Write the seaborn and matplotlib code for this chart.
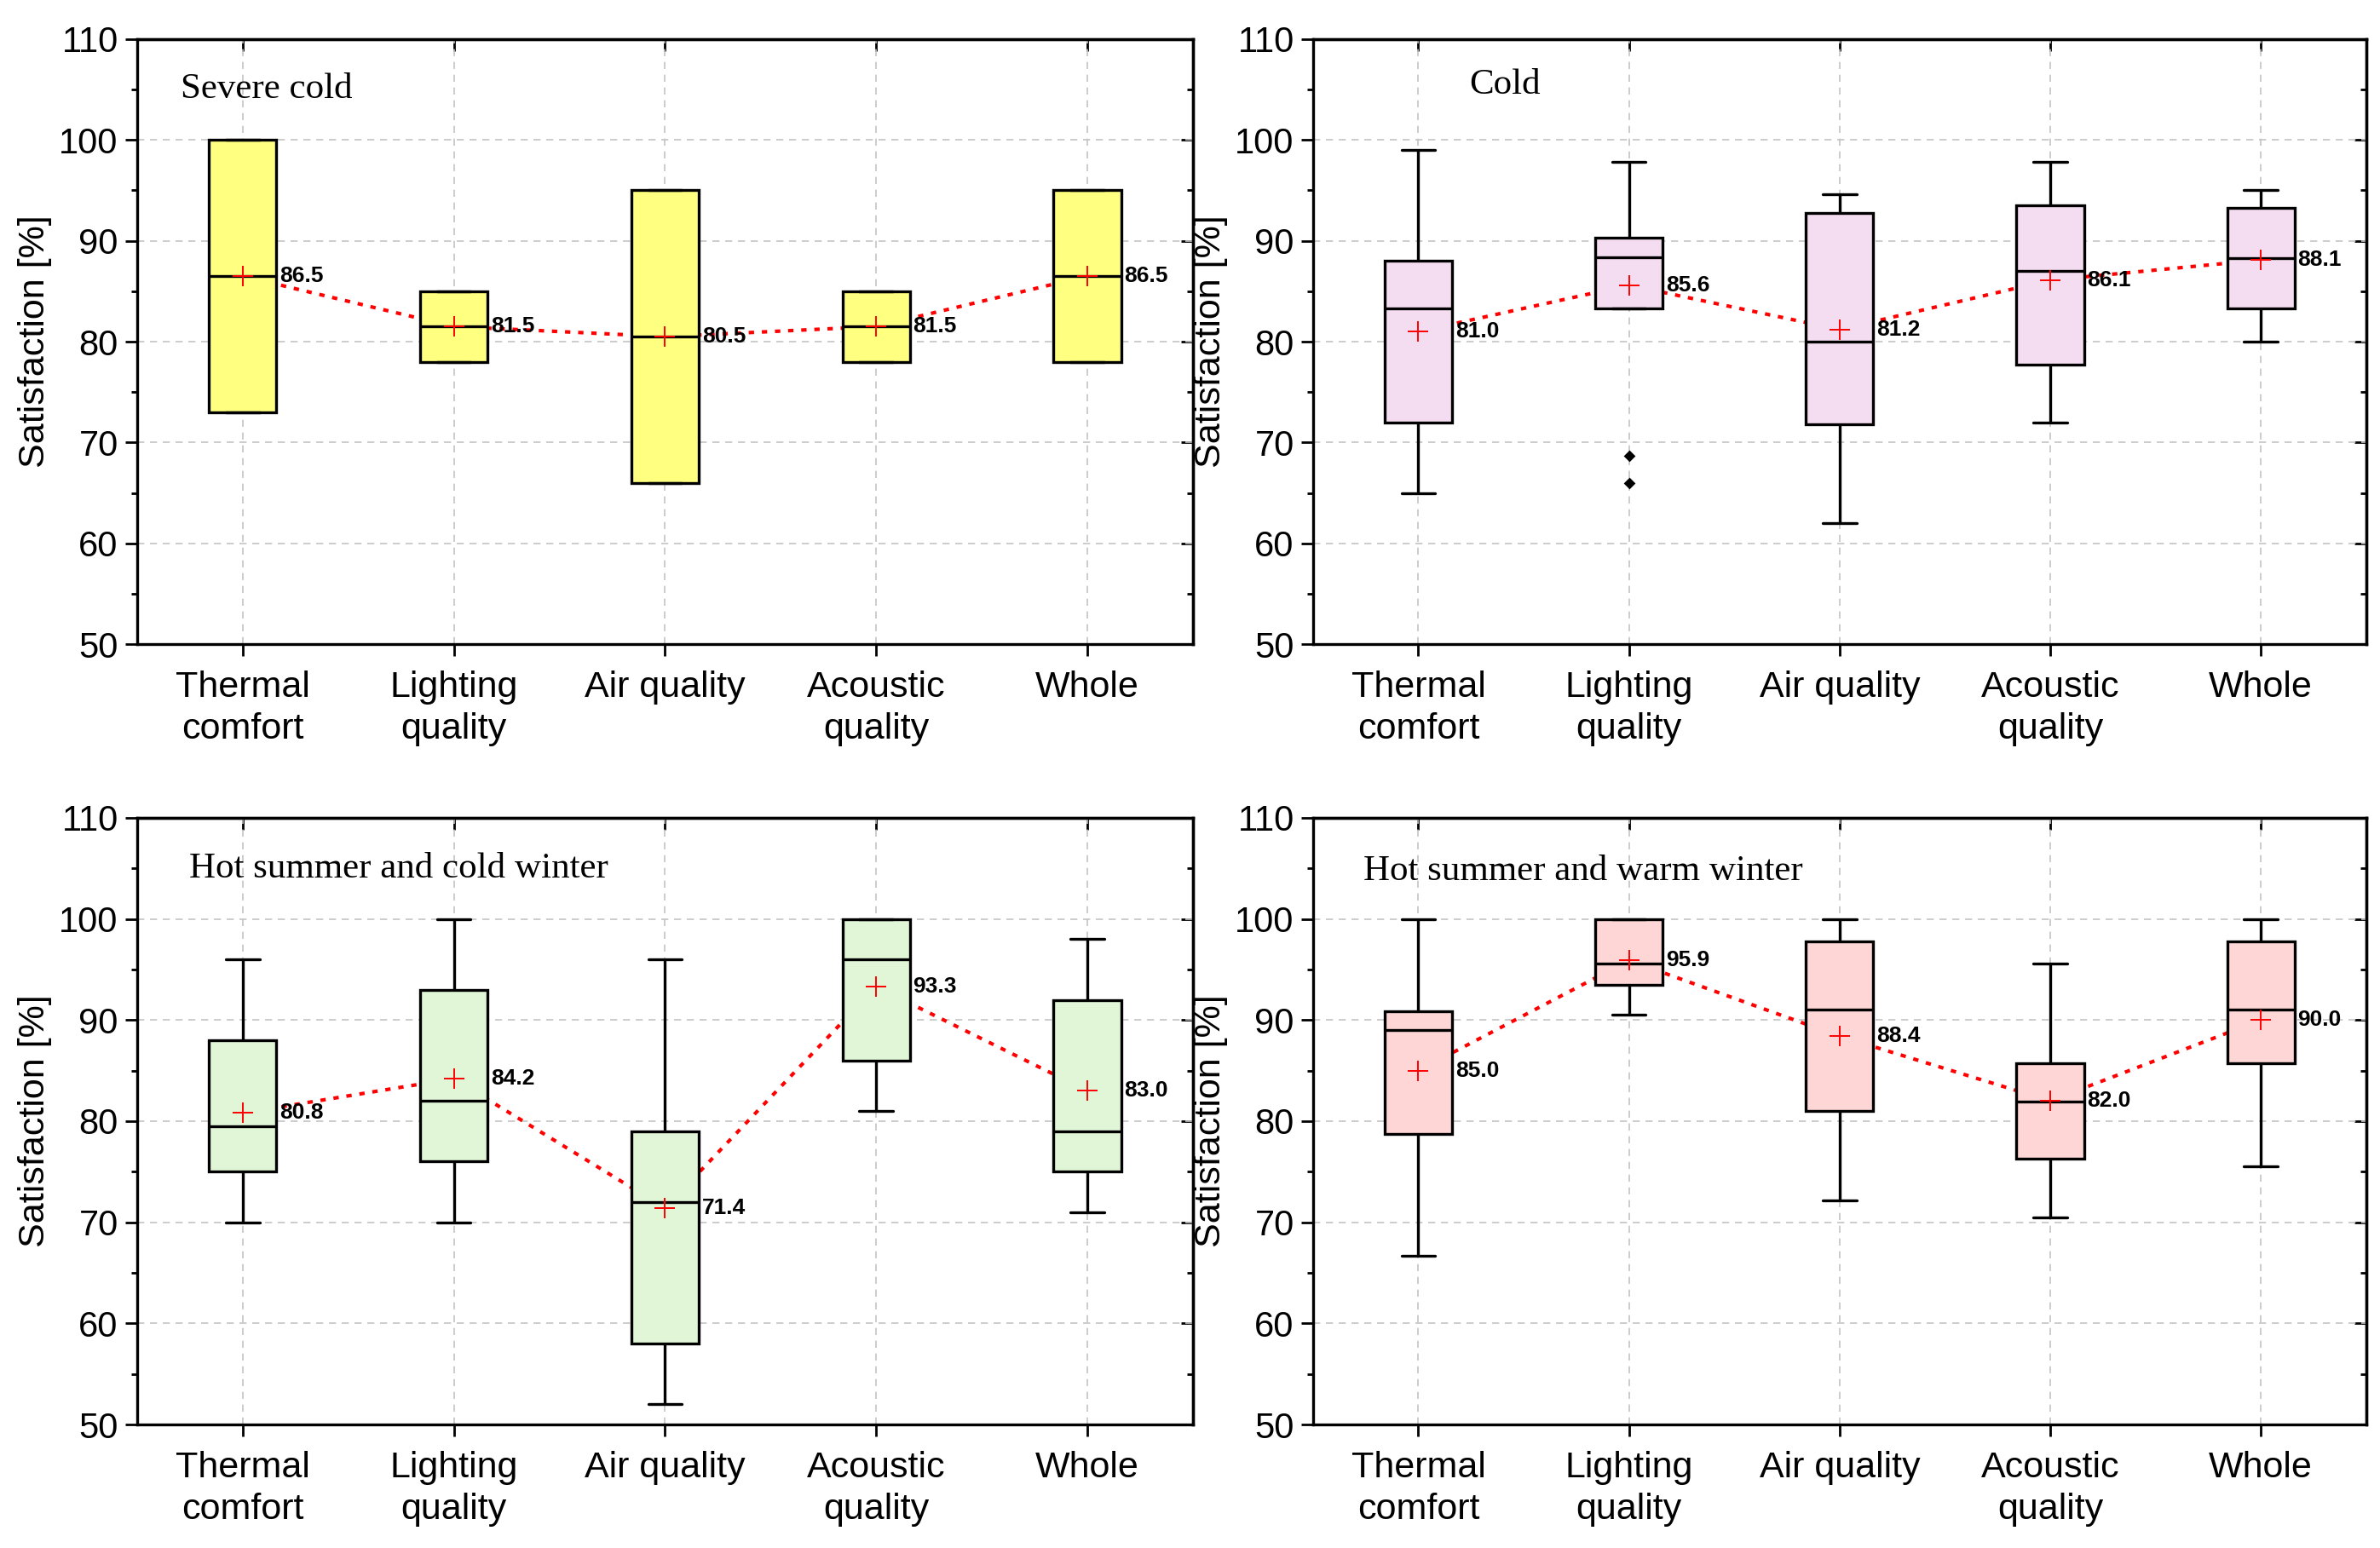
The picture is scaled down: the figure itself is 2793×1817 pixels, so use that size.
import numpy as np
import pandas as pd
import matplotlib
matplotlib.use('Agg')
import matplotlib.pyplot as plt
from matplotlib.ticker import MultipleLocator
import seaborn as sns

# categories and panels
aspects = ['Thermal\ncomfort', 'Lighting\nquality', 'Air quality', 'Acoustic\nquality', 'Whole']
zones = ['Severe cold', 'Cold', 'Hot summer and cold winter', 'Hot summer and warm winter']
box_colors = ['#FFFF80', '#F5DDF1', '#E1F5D7', '#FFD6D6']

# box statistics (whisker low, Q1, median, Q3, whisker high, mean)
severe_lo = [73, 78, 66, 78, 78]
severe_q1 = [73, 78, 66, 78, 78]
severe_med = [86.5, 81.5, 80.5, 81.5, 86.5]
severe_q3 = [100, 85, 95, 85, 95]
severe_hi = [100, 85, 95, 85, 95]
severe_mean = [86.5, 81.5, 80.5, 81.5, 86.5]

cold_lo = [65, 83.3, 62, 72, 80]
cold_q1 = [72, 83.3, 71.8, 77.7, 83.3]
cold_med = [83.3, 88.4, 80, 87, 88.3]
cold_q3 = [88, 90.3, 92.8, 93.5, 93.3]
cold_hi = [99, 97.8, 94.6, 97.8, 95]
cold_mean = [81.0, 85.6, 81.2, 86.1, 88.1]
cold_out_cat = ['Lighting\nquality', 'Lighting\nquality']
cold_out_val = [68.7, 66.0]

hscw_lo = [70, 70, 52, 81, 71]
hscw_q1 = [75, 76, 58, 86, 75]
hscw_med = [79.5, 82, 72, 96, 79]
hscw_q3 = [88, 93, 79, 100, 92]
hscw_hi = [96, 100, 96, 100, 98]
hscw_mean = [80.8, 84.2, 71.4, 93.3, 83.0]

hsww_lo = [66.7, 90.5, 72.2, 70.5, 75.5]
hsww_q1 = [78.7, 93.5, 81, 76.3, 85.7]
hsww_med = [89, 95.6, 91, 81.9, 91]
hsww_q3 = [90.9, 100, 97.8, 85.7, 97.8]
hsww_hi = [100, 100, 100, 95.6, 100]
hsww_mean = [85.0, 95.9, 88.4, 82.0, 90.0]

panels = [
    (severe_lo, severe_q1, severe_med, severe_q3, severe_hi, severe_mean, [], []),
    (cold_lo, cold_q1, cold_med, cold_q3, cold_hi, cold_mean, cold_out_cat, cold_out_val),
    (hscw_lo, hscw_q1, hscw_med, hscw_q3, hscw_hi, hscw_mean, [], []),
    (hsww_lo, hsww_q1, hsww_med, hsww_q3, hsww_hi, hsww_mean, [], []),
]

sns.set_style('ticks')
plt.rcParams['font.family'] = ['Liberation Sans', 'DejaVu Sans']
for key in ['text.color', 'axes.labelcolor', 'xtick.color', 'ytick.color', 'axes.edgecolor']:
    plt.rcParams[key] = 'black'

fig = plt.figure(figsize=(27.93, 18.17), dpi=100)
positions = [
    [0.0576, 0.5839, 0.4436, 0.3908],
    [0.5517, 0.5839, 0.4425, 0.3908],
    [0.0576, 0.0798, 0.4436, 0.3919],
    [0.5517, 0.0798, 0.4425, 0.3919],
]
title_xy = [(0.041, 0.917), (0.148, 0.924), (0.049, 0.916), (0.048, 0.912)]

for k, (lo, q1, med, q3, hi, means, out_cat, out_val) in enumerate(panels):
    ax = fig.add_axes(positions[k])

    # each box built from its five-number summary (percentiles of 5 values give Q1/median/Q3)
    rows = []
    for a, vals in zip(aspects, zip(lo, q1, med, q3, hi)):
        for v in vals:
            rows.append({'aspect': a, 'value': v})
    df = pd.DataFrame(rows)

    sns.boxplot(data=df, x='aspect', y='value', order=aspects, whis=(0, 100),
                width=0.32, color=box_colors[k], saturation=1, linecolor='black',
                linewidth=2.4, showfliers=False, ax=ax,
                boxprops={'zorder': 3}, whiskerprops={'zorder': 3},
                capprops={'zorder': 3}, medianprops={'zorder': 3})

    # dotted mean line (behind boxes) and mean markers (on top)
    sns.pointplot(x=aspects, y=means, order=aspects, errorbar=None, color='red',
                  marker='', linestyle=(0, (1.5, 2.2)), linewidth=3.0, zorder=1.5, ax=ax)
    sns.pointplot(x=aspects, y=means, order=aspects, errorbar=None, color='red',
                  marker='+', linestyle='none', markersize=17, markeredgewidth=1.4,
                  zorder=6, ax=ax)

    if out_val:
        sns.stripplot(x=out_cat, y=out_val, order=aspects, jitter=False, marker='D',
                      color='black', size=7, zorder=6, ax=ax)

    for i, m in enumerate(means):
        ax.text(i + 0.175, m, f'{m:.1f}', ha='left', va='center', fontsize=19,
                fontweight='bold', zorder=7)

    ax.text(*title_xy[k], zones[k], transform=ax.transAxes, ha='left', va='center',
            fontsize=31, family='Liberation Serif')

    ax.set_xlim(-0.5, 4.5)
    ax.set_ylim(50, 110)
    ax.set_yticks(np.arange(50, 111, 10))
    ax.yaxis.set_minor_locator(MultipleLocator(5))
    ax.set_xticks(range(len(aspects)))
    ax.set_xticklabels(aspects, fontsize=31, linespacing=1.3)
    ax.tick_params(axis='y', which='major', labelsize=30, length=10, width=2, pad=6)
    ax.tick_params(axis='y', which='minor', length=5, width=2)
    ax.tick_params(axis='x', which='major', length=10, width=2, pad=12)
    ax.set_xlabel('')
    ax.set_ylabel('Satisfaction [%]', fontsize=31, labelpad=6)

    ax.set_axisbelow(True)
    ax.grid(True, which='major', axis='both', color='#C4C4C4', linewidth=1.2,
            linestyle=(0, (5, 4)))

    for s in ax.spines.values():
        s.set_linewidth(2.4)
        s.set_color('black')
        s.set_visible(True)

    # inward ticks on the top and right sides
    top = ax.secondary_xaxis('top')
    top.set_xticks(range(len(aspects)))
    top.set_xticklabels([])
    top.tick_params(direction='in', length=10, width=2)
    top.spines['top'].set_linewidth(2.4)
    right = ax.secondary_yaxis('right')
    right.set_yticks(np.arange(50, 111, 10))
    right.yaxis.set_minor_locator(MultipleLocator(5))
    right.set_yticklabels([])
    right.tick_params(which='major', direction='in', length=10, width=2)
    right.tick_params(which='minor', direction='in', length=5, width=2)
    right.spines['right'].set_linewidth(2.4)

fig.savefig('out.png', dpi=100)
